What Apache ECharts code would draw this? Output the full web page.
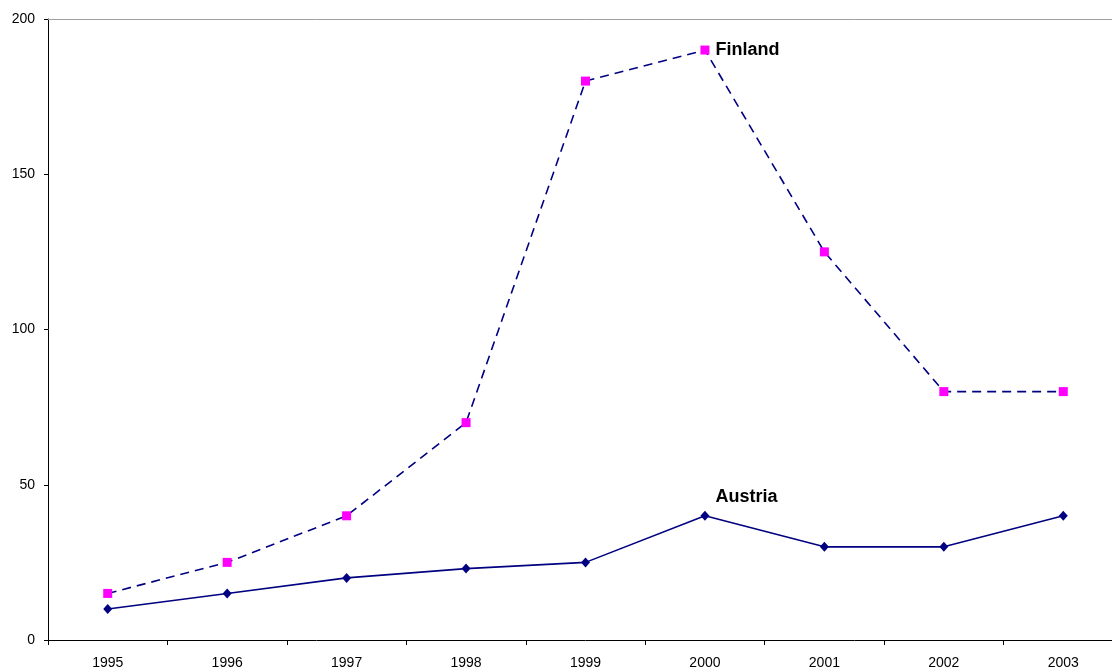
<!DOCTYPE html>
<html><head><meta charset="utf-8">
<script src="https://cdn.jsdelivr.net/npm/echarts@6/dist/echarts.min.js"></script>
<style>html,body{margin:0;padding:0;background:#fff;overflow:hidden;width:1112px;height:670px}#c{width:1123px;height:670px}</style>
</head><body><div id="c"></div>
<script>
const years = ['1995','1996','1997','1998','1999','2000','2001','2002','2003'];
const finland = [15, 25, 40, 70, 180, 190, 125, 80, 80];
const austria = [10, 15, 20, 23, 25, 40, 30, 30, 40];
const yTicks = [0, 50, 100, 150, 200];
const labelIndex = 5;

function withLabel(arr, name, offset) {
  return arr.map((v, i) => i === labelIndex ? {
    value: v,
    label: { show: true, formatter: name, position: 'right', distance: 6, offset: offset,
      fontFamily: 'Liberation Sans, Arial, sans-serif', fontWeight: 'bold', fontSize: 18, color: '#000' }
  } : v);
}

const chart = echarts.init(document.getElementById('c'), null, { renderer: 'canvas' });
chart.setOption({
  animation: false,
  backgroundColor: '#fff',
  grid: { left: 48, right: 0, top: 19, bottom: 29, containLabel: false },
  xAxis: [{
    type: 'category', data: years, boundaryGap: true,
    axisLine: { lineStyle: { color: '#000', width: 1 } },
    axisTick: { show: true, inside: false, length: 5, lineStyle: { color: '#000' } },
    axisLabel: { color: '#000', fontSize: 14, fontFamily: 'Liberation Sans, Arial, sans-serif', margin: 16 },
    splitLine: { show: false }
  }, {
    type: 'category', data: years, position: 'top',
    axisLine: { show: true, lineStyle: { color: '#a0a0a0', width: 1 } },
    axisTick: { show: false }, axisLabel: { show: false }, splitLine: { show: false }
  }],
  yAxis: {
    type: 'value', min: yTicks[0], max: yTicks[yTicks.length - 1], interval: 50,
    axisLine: { show: true, lineStyle: { color: '#000', width: 1 } },
    axisTick: { show: true, inside: false, length: 4, lineStyle: { color: '#000' } },
    axisLabel: { color: '#000', fontSize: 14, fontFamily: 'Liberation Sans, Arial, sans-serif', margin: 13 },
    splitLine: { show: false }
  },
  series: [{
    name: 'Finland', type: 'line', data: withLabel(finland, 'Finland', [0, 0]),
    symbol: 'rect', symbolSize: 9, showAllSymbol: true,
    lineStyle: { color: '#000080', width: 1.6, type: [9, 6] },
    itemStyle: { color: '#ff00ff', borderWidth: 0 },
    z: 3
  }, {
    name: 'Austria', type: 'line', data: withLabel(austria, 'Austria', [0, -19]),
    symbol: 'diamond', symbolSize: [9, 10], showAllSymbol: true,
    lineStyle: { color: '#000080', width: 1.6 },
    itemStyle: { color: '#000080', borderWidth: 0 },
    z: 3
  }]
});
</script></body></html>
